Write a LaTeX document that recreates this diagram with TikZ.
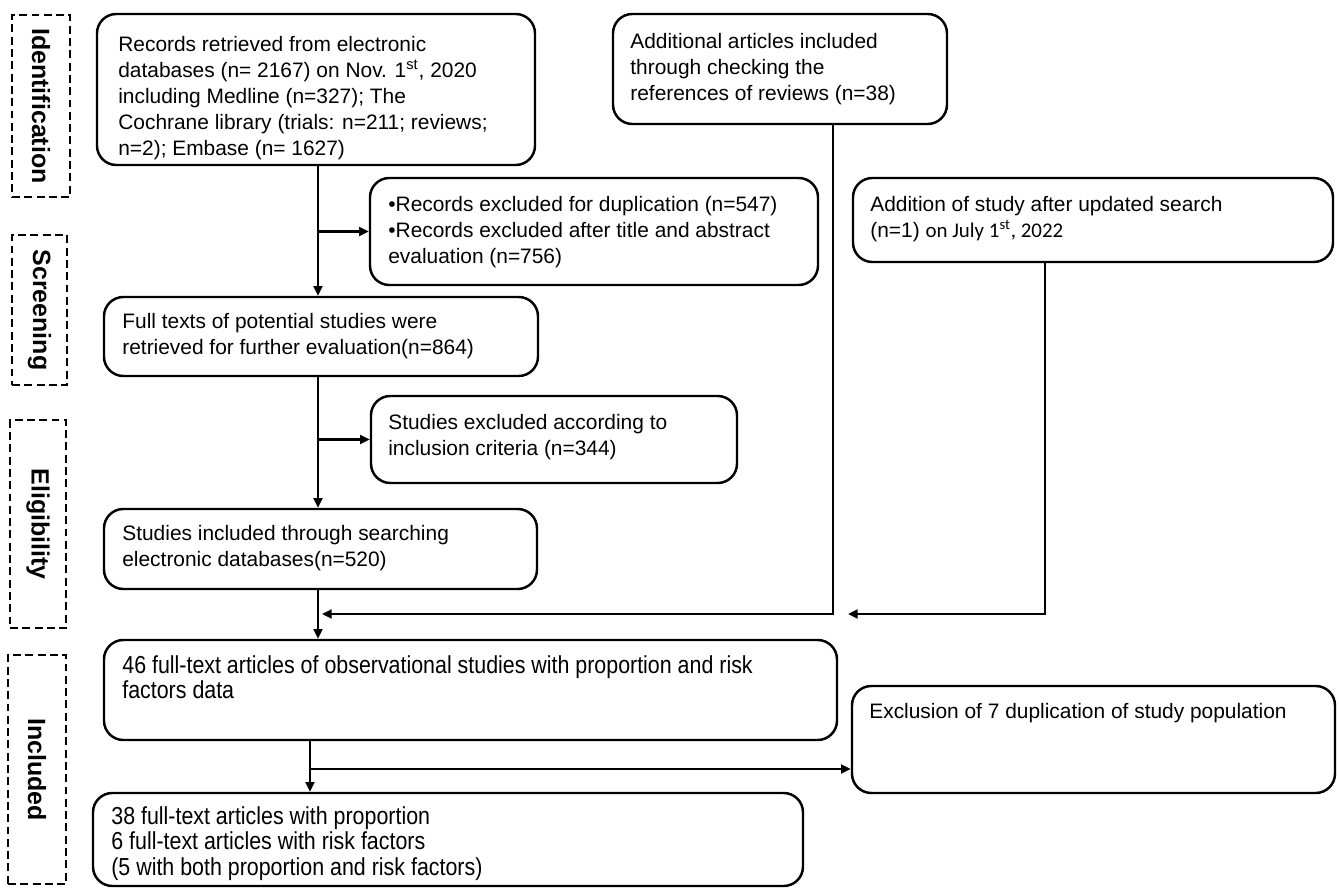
\documentclass[tikz,border=0pt]{standalone}
\usepackage{fontspec}
\setmainfont{Liberation Sans}
\newfontfamily\narrowfont[FakeStretch=0.87]{Liberation Sans}
\newfontfamily\carlito{Carlito}
\usetikzlibrary{arrows.meta,fit}
\begin{document}
\begin{tikzpicture}[x=0.02cm,y=-0.02cm,
 box/.style={draw, line width=1.4pt, rounded corners=11pt, inner sep=0pt},
 sidebox/.style={draw, dash pattern=on 4.5pt off 2.5pt, line width=0.85pt, inner sep=0pt},
 txt/.style={anchor=north west, inner sep=0pt, align=left, font=\fontsize{11.9}{14.8}\selectfont},
 ntxt/.style={txt, font=\narrowfont\fontsize{14}{14.5}\selectfont},
 side/.style={rotate=-90, font=\bfseries\fontsize{14.2}{16}\selectfont, inner sep=0pt},
 line/.style={line width=1.4pt},
 arr/.style={line, -{Triangle[length=5.5pt,width=5pt]}}]
\useasboundingbox (0,0) rectangle (1339,891);

% phase labels
\node[sidebox, fit={(12,15) (70,197)}] (idb) {};
\node[side] (idl) at (idb.center) {Identification};
\node[sidebox, fit={(12,235) (67,385)}] (scb) {};
\node[side] (scl) at (scb.center) {Screening};
\node[sidebox, fit={(10,420) (66,628)}] (elb) {};
\node[side] (ell) at (elb.center) {Eligibility};
\node[sidebox, fit={(8,655) (66,884)}] (inb) {};
\node[side] (inl) at (inb.center) {Included};

% boxes
\node[box, fit={(97,14) (535,165)}] (A) {};
\node[txt] (At) at (118,36) {Records retrieved from electronic\\databases (n= 2167) on Nov. 1\textsuperscript{st}, 2020\\including Medline (n=327); The\\Cochrane library (trials: n=211; reviews;\\n=2); Embase (n= 1627)};

\node[box, fit={(613,14) (947,124)}] (B) {};
\node[txt] (Bt) at (630,33) {Additional articles included\\through checking the\\references of reviews (n=38)};

\node[box, fit={(370,178) (818,285)}] (C) {};
\node[txt] (Ct) at (388,196) {•Records excluded for duplication (n=547)\\•Records excluded after title and abstract\\evaluation (n=756)};

\node[box, fit={(853,178) (1333,262)}] (D) {};
\node[txt] (Dt) at (870,196) {Addition of study after updated search\\(n=1) {\carlito on July 1\textsuperscript{st}, 2022}};

\node[box, fit={(104,297) (538,376)}] (E) {};
\node[txt] (Et) at (122,313) {Full texts of potential studies were\\retrieved for further evaluation(n=864)};

\node[box, fit={(371,396) (737,483)}] (F) {};
\node[txt] (Ft) at (388,414) {Studies excluded according to\\inclusion criteria (n=344)};

\node[box, fit={(104,509) (537,589)}] (G) {};
\node[txt] (Gt) at (122,525) {Studies included through searching\\electronic databases(n=520)};

\node[box, fit={(104,640) (837,740)}] (H) {};
\node[ntxt] (Ht) at (122,655) {46 full-text articles of observational studies with proportion and risk\\factors data};

\node[box, fit={(852,686) (1335,793)}] (I) {};
\node[txt] (It) at (869,703) {Exclusion of 7 duplication of study population};

\node[box, fit={(93,793) (803,886)}] (J) {};
\node[ntxt] (Jt) at (111,806) {38 full-text articles with proportion\\6 full-text articles with risk factors\\(5 with both proportion and risk factors)};

% connector guides
\coordinate (x1) at (318,0);
\coordinate (x2) at (833,0);
\coordinate (x3) at (1045,0);
\coordinate (x4) at (310,0);
\coordinate (j1) at (0,614);
\coordinate (j2) at (0,769);
\coordinate (e1) at (322,614);
\coordinate (e2) at (848,614);

\draw[arr] (A.south -| x1) -- (E.north -| x1);
\draw[arr] (x1 |- C.west) -- (C.west);
\draw[arr] (E.south -| x1) -- (G.north -| x1);
\draw[arr] (x1 |- F.west) -- (F.west);
\draw[arr] (G.south -| x1) -- (H.north -| x1);
\draw[arr] (B.south -| x2) -- (x2 |- j1) -- (e1);
\draw[arr] (D.south -| x3) -- (x3 |- j1) -- (e2);
\draw[arr] (H.south -| x4) -- (J.north -| x4);
\draw[arr] (x4 |- j2) -- (I.west |- j2);
\end{tikzpicture}
\end{document}
